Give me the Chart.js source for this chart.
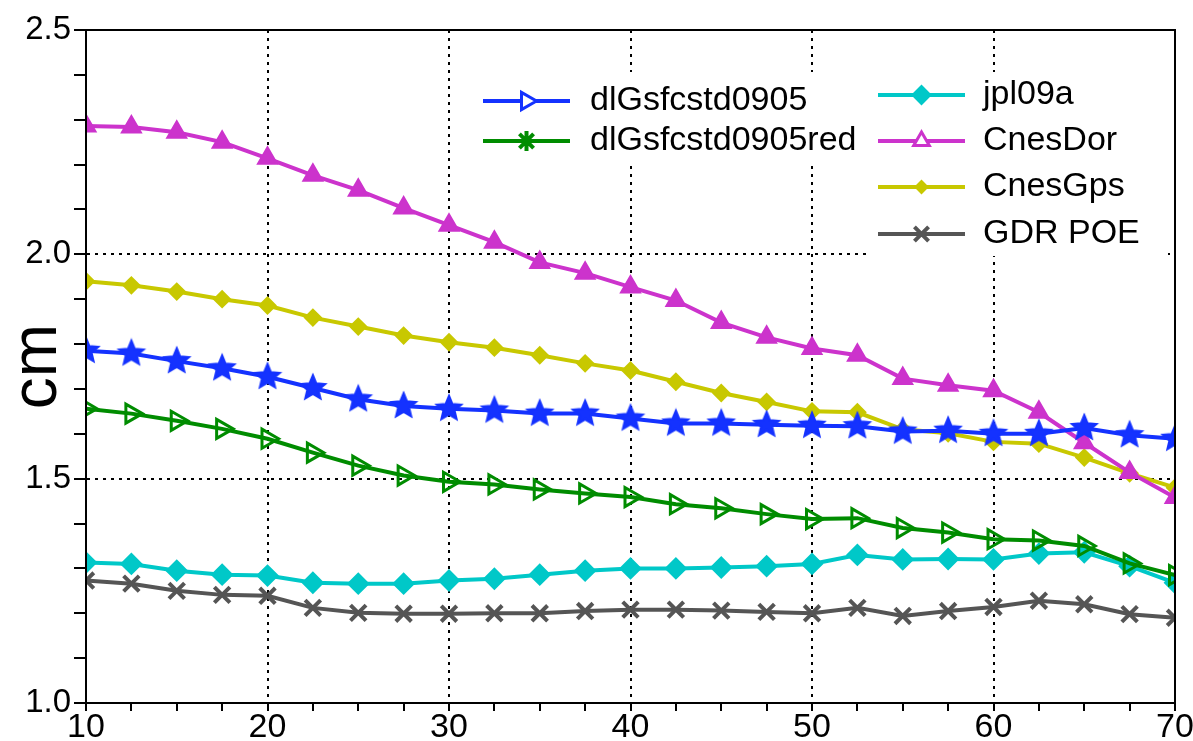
<!DOCTYPE html>
<html>
<head>
<meta charset="utf-8">
<script src="https://cdn.jsdelivr.net/npm/chart.js@4.4.1/dist/chart.umd.min.js"></script>
<style>
  html, body { margin: 0; padding: 0; background: #fff; }
  #wrap { width: 1193px; height: 741px; }
</style>
</head>
<body>
<div id="wrap"><canvas id="chart" width="1193" height="741"></canvas></div>
<script>
const xValues = [10, 12.5, 15, 17.5, 20, 22.5, 25, 27.5, 30, 32.5, 35, 37.5, 40, 42.5, 45, 47.5, 50, 52.5, 55, 57.5, 60, 62.5, 65, 67.5, 70];
const seriesNames = ['dlGsfcstd0905', 'dlGsfcstd0905red', 'jpl09a', 'CnesDor', 'CnesGps', 'GDR POE'];

const dlGsfc = [1.785, 1.779, 1.762, 1.746, 1.727, 1.702, 1.677, 1.662, 1.656, 1.652, 1.645, 1.645, 1.634, 1.623, 1.623, 1.620, 1.618, 1.617, 1.605, 1.607, 1.600, 1.600, 1.613, 1.597, 1.589];
const dlGsfcRed = [1.656, 1.645, 1.629, 1.611, 1.589, 1.558, 1.529, 1.507, 1.493, 1.487, 1.476, 1.467, 1.459, 1.443, 1.434, 1.421, 1.410, 1.412, 1.390, 1.380, 1.365, 1.362, 1.350, 1.311, 1.285];
const jpl09a = [1.313, 1.310, 1.295, 1.286, 1.284, 1.268, 1.266, 1.266, 1.273, 1.277, 1.286, 1.295, 1.300, 1.300, 1.302, 1.305, 1.310, 1.330, 1.320, 1.321, 1.320, 1.333, 1.336, 1.305, 1.268];
const cnesDor = [2.286, 2.284, 2.272, 2.250, 2.214, 2.176, 2.143, 2.103, 2.065, 2.027, 1.982, 1.958, 1.927, 1.897, 1.848, 1.815, 1.790, 1.775, 1.723, 1.708, 1.696, 1.648, 1.580, 1.514, 1.458];
const cnesGps = [1.940, 1.931, 1.917, 1.900, 1.886, 1.859, 1.839, 1.819, 1.804, 1.792, 1.775, 1.757, 1.741, 1.716, 1.691, 1.671, 1.650, 1.648, 1.610, 1.601, 1.582, 1.578, 1.547, 1.512, 1.480];
const gdrPoe = [1.273, 1.266, 1.250, 1.241, 1.239, 1.212, 1.201, 1.199, 1.199, 1.200, 1.200, 1.205, 1.208, 1.208, 1.206, 1.203, 1.200, 1.212, 1.194, 1.205, 1.214, 1.228, 1.220, 1.198, 1.190];

const yMin = 1.0, yMax = 2.5, xMin = 10, xMax = 70;

const FONT = '"Liberation Sans", Arial, Helvetica, sans-serif';

// filled 5 point star used as the blue marker
function starMarker(color, r) {
  const c = document.createElement('canvas');
  const s = Math.ceil(r * 2 + 6);
  c.width = s; c.height = s;
  const g = c.getContext('2d');
  g.translate(s / 2, s / 2);
  g.beginPath();
  for (let i = 0; i < 10; i++) {
    const a = -Math.PI / 2 + i * Math.PI / 5;
    const rad = i % 2 ? r * 0.45 : r;
    const px = Math.cos(a) * rad, py = Math.sin(a) * rad;
    if (i === 0) g.moveTo(px, py); else g.lineTo(px, py);
  }
  g.closePath();
  g.fillStyle = color;
  g.fill();
  g.lineWidth = 2;
  g.strokeStyle = color;
  g.stroke();
  return c;
}

function pts(arr) {
  return arr.map((v, i) => ({ x: xValues[i], y: v }));
}

const datasets = [
  { label: seriesNames[0], data: pts(dlGsfc), borderColor: '#1432ff', backgroundColor: '#1432ff',
    pointStyle: starMarker('#1432ff', 13), pointRadius: 13, borderWidth: 4,
    legendStyle: { pointStyle: 'triangle', rotation: 90, radius: 10, fill: '#fff', borderWidth: 3 } },
  { label: seriesNames[1], data: pts(dlGsfcRed), borderColor: '#008c00', backgroundColor: 'rgba(255,255,255,0)',
    pointStyle: 'triangle', rotation: 90, pointRadius: 11, pointBorderWidth: 3, borderWidth: 4,
    legendStyle: { pointStyle: 'star', rotation: 0, radius: 10, fill: '#008c00', borderWidth: 4 } },
  { label: seriesNames[2], data: pts(jpl09a), borderColor: '#00c8c8', backgroundColor: '#00c8c8',
    pointStyle: 'rectRot', pointRadius: 10, borderWidth: 4,
    legendStyle: { pointStyle: 'rectRot', rotation: 0, radius: 9, fill: '#00c8c8', borderWidth: 2 } },
  { label: seriesNames[3], data: pts(cnesDor), borderColor: '#cc33cc', backgroundColor: '#cc33cc',
    pointStyle: 'triangle', pointRadius: 11, borderWidth: 4,
    legendStyle: { pointStyle: 'triangle', rotation: 0, radius: 9, fill: '#fff', borderWidth: 3 } },
  { label: seriesNames[4], data: pts(cnesGps), borderColor: '#c8c800', backgroundColor: '#c8c800',
    pointStyle: 'rectRot', pointRadius: 8, borderWidth: 4,
    legendStyle: { pointStyle: 'rectRot', rotation: 0, radius: 6, fill: '#c8c800', borderWidth: 2 } },
  { label: seriesNames[5], data: pts(gdrPoe), borderColor: '#555555', backgroundColor: '#555555',
    pointStyle: 'crossRot', pointRadius: 11, pointBorderWidth: 4, borderWidth: 4,
    legendStyle: { pointStyle: 'crossRot', rotation: 0, radius: 10, fill: '#555555', borderWidth: 4 } }
];
datasets.forEach(d => {
  d.clip = 0;
  d.tension = 0;
  d.fill = false;
  if (d.pointBorderWidth === undefined) d.pointBorderWidth = 2;
});

function isMultiple(v, step) {
  const q = v / step;
  return Math.abs(q - Math.round(q)) < 1e-6;
}

// white legend boxes in the plot, two columns
const legendLayout = [
  { box: [470, 72, 398, 92], lineX: [483, 570], textX: 590, rows: [[0, 101], [1, 141]] },
  { box: [868, 72, 300, 184], lineX: [878, 965], textX: 983, rows: [[2, 95], [3, 141], [4, 187], [5, 234]] }
];

const legendPlugin = {
  id: 'inPlotLegend',
  afterDatasetsDraw(chart) {
    const ctx = chart.ctx;
    ctx.save();
    legendLayout.forEach(col => {
      ctx.fillStyle = '#fff';
      ctx.fillRect(col.box[0], col.box[1], col.box[2], col.box[3]);
    });
    legendLayout.forEach(col => {
      col.rows.forEach(([idx, y]) => {
        const ds = chart.data.datasets[idx];
        const ls = ds.legendStyle;
        ctx.strokeStyle = ds.borderColor;
        ctx.lineWidth = 4;
        ctx.setLineDash([]);
        ctx.beginPath();
        ctx.moveTo(col.lineX[0], y);
        ctx.lineTo(col.lineX[1], y);
        ctx.stroke();
        ctx.fillStyle = ls.fill;
        ctx.strokeStyle = ds.borderColor;
        ctx.lineWidth = ls.borderWidth;
        Chart.helpers.drawPoint(ctx, {
          pointStyle: ls.pointStyle, rotation: ls.rotation, radius: ls.radius, borderWidth: ls.borderWidth
        }, (col.lineX[0] + col.lineX[1]) / 2, y);
        ctx.fillStyle = '#000';
        ctx.font = '34px ' + FONT;
        ctx.textBaseline = 'middle';
        ctx.textAlign = 'left';
        ctx.fillText(ds.label, col.textX, y);
      });
    });
    ctx.restore();
  }
};

const framePlugin = {
  id: 'frame',
  afterDraw(chart) {
    const a = chart.chartArea;
    const ctx = chart.ctx;
    ctx.save();
    ctx.strokeStyle = '#000';
    ctx.lineWidth = 2;
    ctx.strokeRect(a.left, a.top, a.right - a.left, a.bottom - a.top);
    ctx.restore();
  }
};

new Chart(document.getElementById('chart').getContext('2d'), {
  type: 'line',
  data: { datasets: datasets },
  plugins: [legendPlugin, framePlugin],
  options: {
    responsive: false,
    animation: false,
    layout: { padding: { top: 30, right: 18, left: 0, bottom: 0 } },
    plugins: { legend: { display: false }, tooltip: { enabled: false } },
    scales: {
      x: {
        type: 'linear',
        min: xMin, max: xMax,
        afterFit: s => { s.height = 38; },
        ticks: {
          stepSize: 2.5,
          autoSkip: false,
          maxRotation: 0,
          padding: -4,
          color: '#000',
          font: { family: FONT, size: 34 },
          callback: v => isMultiple(v, 10) ? String(v) : ''
        },
        grid: {
          color: c => (c.tick && isMultiple(c.tick.value, 10) && c.tick.value > xMin && c.tick.value < xMax) ? '#000' : 'rgba(0,0,0,0)',
          lineWidth: 2,
          tickColor: '#000',
          tickLength: 8,
          tickWidth: 2
        },
        border: { display: true, color: '#000', width: 2, dash: [3, 5] }
      },
      y: {
        min: yMin, max: yMax,
        afterFit: s => { s.width = 86; },
        ticks: {
          stepSize: 0.1,
          autoSkip: false,
          padding: 3,
          color: '#000',
          font: { family: FONT, size: 33 },
          callback: v => isMultiple(v, 0.5) ? v.toFixed(1) : ''
        },
        grid: {
          color: c => (c.tick && isMultiple(c.tick.value, 0.5) && c.tick.value > yMin + 1e-6 && c.tick.value < yMax - 1e-6) ? '#000' : 'rgba(0,0,0,0)',
          lineWidth: 2,
          tickColor: '#000',
          tickLength: 12,
          tickWidth: 2
        },
        border: { display: true, color: '#000', width: 2, dash: [3, 5] },
        title: {
          display: true,
          text: 'cm',
          color: '#000',
          font: { family: FONT, size: 64 },
          padding: { top: 0, bottom: 0 }
        }
      }
    }
  }
});
</script>
</body>
</html>
